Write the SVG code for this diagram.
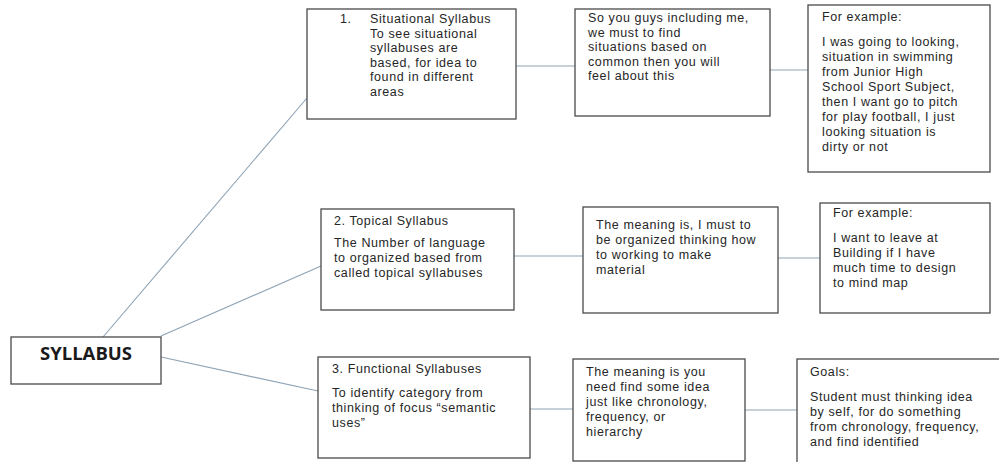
<svg xmlns="http://www.w3.org/2000/svg" width="999" height="462" viewBox="0 0 999 462">
<style>
.box{fill:#fff;stroke:#4a4a4a;stroke-width:1.3}
.t{font-family:"Liberation Sans",Arial,sans-serif;font-size:12.5px;letter-spacing:0.6px;fill:#262626}
.h{font-family:"Open Sans","Liberation Sans",sans-serif;font-size:18.5px;font-weight:bold;fill:#1a1a1a}
.c{stroke:#8ea3b5;stroke-width:1.1;fill:none}
</style>
<rect width="999" height="462" fill="#fff"/>
<g id="connectors">
<line class="c" x1="103" y1="337" x2="307" y2="98"/>
<line class="c" x1="161" y1="336" x2="321" y2="266"/>
<line class="c" x1="161" y1="357" x2="318" y2="391"/>
<line class="c" x1="516" y1="66" x2="575" y2="66"/>
<line class="c" x1="770" y1="70" x2="808" y2="70"/>
<line class="c" x1="514" y1="256" x2="583" y2="256"/>
<line class="c" x1="778" y1="258" x2="820" y2="258"/>
<line class="c" x1="530" y1="409" x2="573" y2="409"/>
<line class="c" x1="745" y1="410" x2="797" y2="410"/>
</g>
<g id="syllabus">
<rect class="box" x="11" y="337" width="150" height="47"/>
<text class="h" x="86" y="360" text-anchor="middle">SYLLABUS</text>
</g>
<g id="situational">
<rect class="box" x="307" y="9" width="209" height="110"/>
<text class="t" x="340" y="23">1.</text>
<text class="t" x="370" y="23">Situational Syllabus</text>
<text class="t" x="370" y="37.6">To see situational</text>
<text class="t" x="370" y="52.2">syllabuses are</text>
<text class="t" x="370" y="66.8">based, for idea to</text>
<text class="t" x="370" y="81.4">found in different</text>
<text class="t" x="370" y="96">areas</text>
</g>
<g id="situational-meaning">
<rect class="box" x="575" y="9" width="195" height="107"/>
<text class="t" x="588" y="22">So you guys including me,</text>
<text class="t" x="588" y="36.6">we must to find</text>
<text class="t" x="588" y="51.2">situations based on</text>
<text class="t" x="588" y="65.8">common then you will</text>
<text class="t" x="588" y="80.4">feel about this</text>
</g>
<g id="situational-example">
<rect class="box" x="808" y="5" width="182" height="167"/>
<text class="t" x="822" y="21">For example:</text>
<text class="t" x="822" y="46">I was going to looking,</text>
<text class="t" x="822" y="61">situation in swimming</text>
<text class="t" x="822" y="76">from Junior High</text>
<text class="t" x="822" y="91">School Sport Subject,</text>
<text class="t" x="822" y="106">then I want go to pitch</text>
<text class="t" x="822" y="121">for play football, I just</text>
<text class="t" x="822" y="136">looking situation is</text>
<text class="t" x="822" y="151">dirty or not</text>
</g>
<g id="topical">
<rect class="box" x="321" y="209" width="193" height="101"/>
<text class="t" x="334" y="225">2. Topical Syllabus</text>
<text class="t" x="334" y="247">The Number of language</text>
<text class="t" x="334" y="262">to organized based from</text>
<text class="t" x="334" y="277">called topical syllabuses</text>
</g>
<g id="topical-meaning">
<rect class="box" x="583" y="207" width="195" height="106"/>
<text class="t" x="596" y="229">The meaning is, I must to</text>
<text class="t" x="596" y="244">be organized thinking how</text>
<text class="t" x="596" y="259">to working to make</text>
<text class="t" x="596" y="274">material</text>
</g>
<g id="topical-example">
<rect class="box" x="820" y="203" width="170" height="110"/>
<text class="t" x="833" y="217">For example:</text>
<text class="t" x="833" y="242">I want to leave at</text>
<text class="t" x="833" y="257">Building if I have</text>
<text class="t" x="833" y="272">much time to design</text>
<text class="t" x="833" y="287">to mind map</text>
</g>
<g id="functional">
<rect class="box" x="318" y="357" width="212" height="101"/>
<text class="t" x="332" y="373">3. Functional Syllabuses</text>
<text class="t" x="332" y="397">To identify category from</text>
<text class="t" x="332" y="412">thinking of focus “semantic</text>
<text class="t" x="332" y="427">uses”</text>
</g>
<g id="functional-meaning">
<rect class="box" x="573" y="359" width="172" height="102"/>
<text class="t" x="586" y="376">The meaning is you</text>
<text class="t" x="586" y="391">need find some idea</text>
<text class="t" x="586" y="406">just like chronology,</text>
<text class="t" x="586" y="421">frequency, or</text>
<text class="t" x="586" y="436">hierarchy</text>
</g>
<g id="goals">
<rect class="box" x="797" y="359" width="210" height="110"/>
<text class="t" x="810" y="376">Goals:</text>
<text class="t" x="810" y="401">Student must thinking idea</text>
<text class="t" x="810" y="416">by self, for do something</text>
<text class="t" x="810" y="431">from chronology, frequency,</text>
<text class="t" x="810" y="446">and find identified</text>
</g>
</svg>
